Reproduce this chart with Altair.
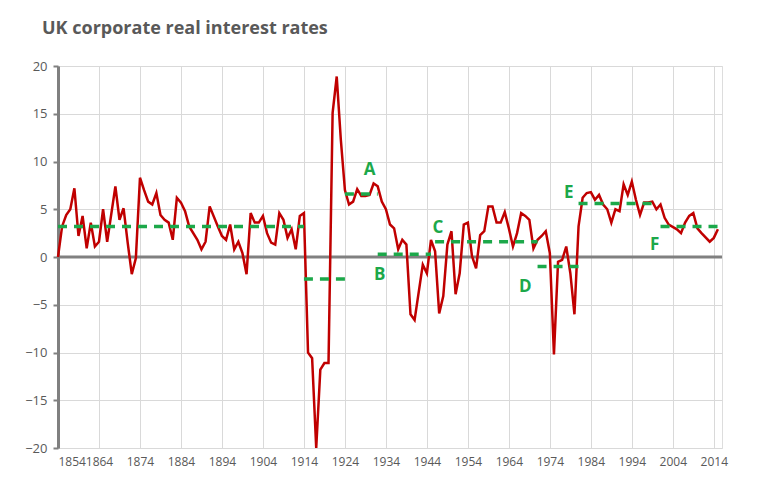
import altair as alt
import pandas as pd

years = [1854,1855,1856,1857,1858,1859,1860,1861,1862,1863,1864,1865,1866,1868,1869,1870,1871,1872,1873,1874,1875,1876,1877,1878,1879,1880,1881,1882,1883,1884,1885,1886,1888,1889,1890,1891,1893,1894,1895,1896,1897,1898,1899,1900,1901,1902,1903,1904,1905,1906,1907,1908,1909,1910,1911,1912,1913,1914,1915,1916,1917,1918,1919,1920,1921,1922,1923,1924,1925,1926,1927,1928,1929,1930,1931,1932,1933,1934,1935,1936,1937,1938,1939,1940,1941,1943,1944,1945,1946,1947,1948,1949,1950,1951,1952,1953,1954,1955,1956,1957,1958,1959,1960,1961,1962,1963,1964,1965,1966,1967,1968,1969,1970,1971,1972,1973,1974,1975,1976,1977,1978,1979,1980,1981,1982,1983,1984,1985,1986,1987,1988,1989,1990,1991,1992,1993,1994,1995,1996,1997,1998,1999,2000,2001,2002,2003,2005,2006,2007,2008,2009,2010,2011,2013,2014,2015]
rates = [0,3.2,4.4,5.0,7.2,2.2,4.3,0.9,3.6,1.1,1.6,5.0,1.6,7.4,3.9,5.1,1.5,-1.8,-0.1,8.3,7.0,5.8,5.5,6.7,4.4,3.9,3.6,1.8,6.2,5.7,4.8,3.2,1.8,0.8,1.6,5.3,3.2,2.2,1.8,3.4,0.8,1.6,0.4,-1.8,4.6,3.6,3.6,4.3,2.5,1.5,1.3,4.6,3.9,2.0,2.9,0.8,4.3,4.6,-10.0,-10.6,-20.0,-11.8,-11.1,-11.1,15.1,18.9,12.3,7.0,5.5,5.8,7.1,6.4,6.4,6.5,7.7,7.4,5.8,5.0,3.4,3.0,0.8,1.8,1.3,-6.0,-6.6,-0.8,-1.7,1.8,0.6,-5.9,-4.1,1.3,2.7,-3.9,-1.7,3.4,3.6,0.1,-1.2,2.3,2.7,5.3,5.3,3.6,3.6,4.7,3.0,1.1,2.5,4.6,4.3,3.9,0.9,1.8,2.2,2.7,0.4,-10.2,-0.5,-0.3,1.1,-1.7,-6.0,3.2,6.2,6.7,6.8,6.0,6.5,5.5,5.0,3.6,5.0,4.8,7.6,6.5,7.9,6.0,4.4,5.7,5.7,5.8,5.0,5.5,4.1,3.4,2.9,2.5,3.6,4.3,4.6,3.0,2.5,1.6,2.0,2.9]

seg_start = [1854,1914,1924,1932,1946,1971,1981,2001]
seg_end = [1914,1924,1932,1945,1971,1981,1999,2016]
seg_val = [3.2,-2.3,6.6,0.3,1.6,-1.0,5.6,3.2]

lab_text = ["A","B","C","D","E","F"]
lab_year = [1930,1932.5,1946.7,1968,1978.6,1999.6]
lab_val = [9.1,-1.9,3.0,-3.1,6.7,1.3]

df = pd.DataFrame({"year": years, "rate": rates})
seg_rows = []
for i, (a, b, v) in enumerate(zip(seg_start, seg_end, seg_val)):
    seg_rows += [{"year": a, "rate": v, "seg": i}, {"year": b, "rate": v, "seg": i}]
segs = pd.DataFrame(seg_rows)
labs = pd.DataFrame({"t": lab_text, "year": lab_year, "rate": lab_val})

xs = alt.Scale(domain=[1854, 2016], nice=False)
ys = alt.Scale(domain=[-20, 20], nice=False)
xax = alt.Axis(values=list(range(1854, 2015, 10)), format="d", title=None, domain=False,
               ticks=False, labelColor="#595959", labelFontSize=12, gridColor="#d9d9d9",
               labelPadding=8, labelOverlap=False)
yax = alt.Axis(values=list(range(-20, 21, 5)), title=None, domainColor="#808080", domainWidth=3,
               tickColor="#808080", tickWidth=2, tickSize=5, labelColor="#595959", labelFontSize=13,
               gridColor="#d9d9d9", labelPadding=6)

zero = alt.Chart(pd.DataFrame({"rate": [0]})).mark_rule(color="#808080", strokeWidth=3).encode(
    y=alt.Y("rate:Q", scale=ys))
line = alt.Chart(df).mark_line(color="#c00000", strokeWidth=2.5).encode(
    x=alt.X("year:Q", scale=xs, axis=xax), y=alt.Y("rate:Q", scale=ys, axis=yax))
dash = alt.Chart(segs).mark_line(color="#1ca84a", strokeWidth=3.5, strokeDash=[9, 7]).encode(
    x=alt.X("year:Q", scale=xs), y=alt.Y("rate:Q", scale=ys), detail="seg:N")
text = alt.Chart(labs).mark_text(color="#1ca84a", fontSize=17, fontWeight="bold", font="Open Sans").encode(
    x=alt.X("year:Q", scale=xs), y=alt.Y("rate:Q", scale=ys), text="t:N")

chart = (zero + line + dash + text).properties(
    width=664, height=382,
    autosize=alt.AutoSizeParams(type="none"),
    padding={"left": 50, "top": 58, "right": 24, "bottom": 35},
    title=alt.TitleParams("UK corporate real interest rates", anchor="start", frame="group", dx=-16,
                          offset=22, fontSize=18, fontWeight="bold", color="#595959", font="Open Sans"),
).configure_view(stroke=None).configure(font="Open Sans")

chart.save("out.html", embed_options={"renderer": "svg", "actions": False})
